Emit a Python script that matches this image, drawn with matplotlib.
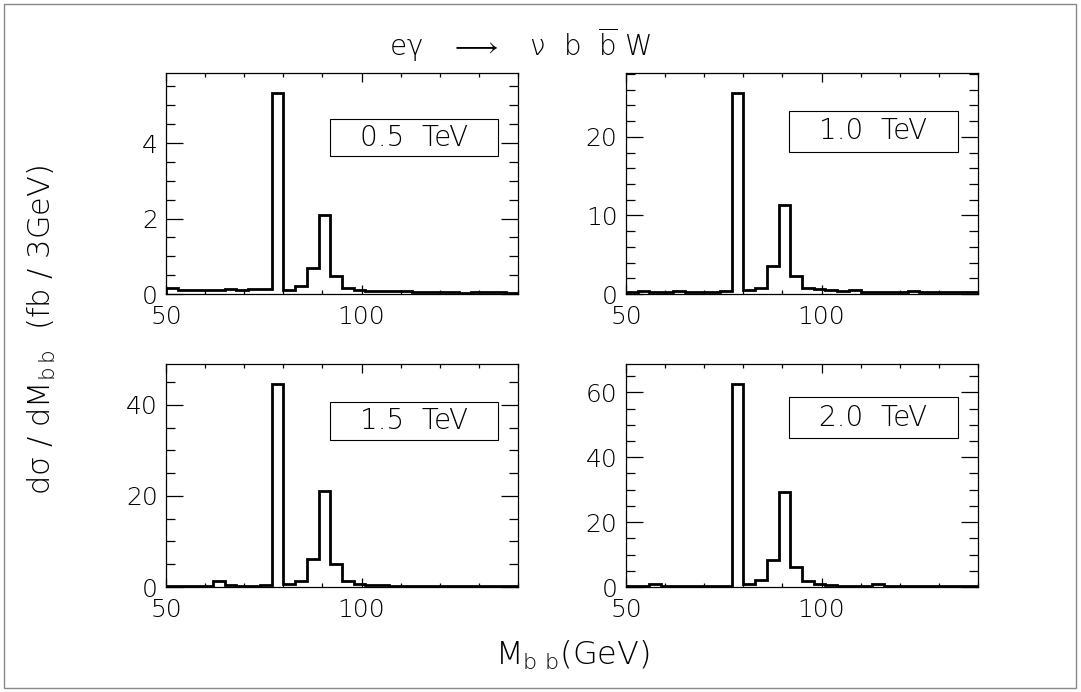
import numpy as np
import matplotlib.pyplot as plt
from matplotlib.patches import Rectangle
from matplotlib.ticker import MultipleLocator

plt.rcParams['font.family'] = ['DejaVu Sans']
plt.rcParams['font.weight'] = 'light'
plt.rcParams['mathtext.fontset'] = 'custom'
plt.rcParams['mathtext.rm'] = 'DejaVu Sans:light'
plt.rcParams['mathtext.it'] = 'DejaVu Sans:light'
plt.rcParams['mathtext.sf'] = 'DejaVu Sans:light'

# M_bb histogram, 3 GeV bins from 50 to 140 GeV
bin_edges = np.arange(50, 141, 3)
energies = ['0.5  TeV', '1.0  TeV', '1.5  TeV', '2.0  TeV']

sig_05 = [0.15, 0.11, 0.11, 0.11, 0.11, 0.14, 0.12, 0.14, 0.14, 5.33,
          0.12, 0.21, 0.70, 2.10, 0.49, 0.17, 0.12, 0.09, 0.08, 0.08,
          0.07, 0.06, 0.06, 0.05, 0.05, 0.04, 0.05, 0.06, 0.05, 0.04]
sig_10 = [0.2, 0.35, 0.25, 0.2, 0.35, 0.2, 0.2, 0.2, 0.35, 25.6,
          0.5, 0.8, 3.6, 11.3, 2.3, 0.8, 0.6, 0.5, 0.35, 0.45,
          0.2, 0.2, 0.2, 0.3, 0.35, 0.3, 0.25, 0.2, 0.3, 0.2]
sig_15 = [0.2, 0.3, 0.2, 0.2, 1.4, 0.5, 0.2, 0.2, 0.35, 44.5,
          0.75, 1.3, 6.1, 21.1, 5.0, 1.3, 0.75, 0.5, 0.4, 0.3,
          0.3, 0.3, 0.25, 0.25, 0.3, 0.3, 0.25, 0.25, 0.3, 0.25]
sig_20 = [0.3, 0.3, 0.8, 0.3, 0.3, 0.3, 0.3, 0.3, 0.3, 62.5,
          1.0, 2.1, 8.2, 29.2, 6.1, 1.9, 1.0, 0.5, 0.4, 0.4,
          0.4, 0.9, 0.4, 0.3, 0.3, 0.3, 0.3, 0.3, 0.3, 0.3]
all_sig = [sig_05, sig_10, sig_15, sig_20]

y_major = [2, 10, 20, 20]
y_minor = [0.5, 2, 5, 5]

fig = plt.figure(figsize=(10.81, 6.92), dpi=100)

# panel placement (left, bottom, width, height) in figure fractions
pos = [(0.1536, 0.5751, 0.3256, 0.3198),
       (0.5791, 0.5751, 0.3256, 0.3198),
       (0.1536, 0.1517, 0.3256, 0.3223),
       (0.5791, 0.1517, 0.3256, 0.3223)]
# label box (x0, y0, x1, y1) in axes fractions
boxes = [(0.466, 0.624, 0.943, 0.790),
         (0.463, 0.643, 0.943, 0.827),
         (0.466, 0.659, 0.943, 0.831),
         (0.463, 0.666, 0.943, 0.853)]

for i in range(4):
    ax = fig.add_axes(pos[i])
    vals = np.array(all_sig[i])
    ax.stairs(vals, bin_edges, color='k', lw=2.0)
    ax.set_xlim(50, 140)
    ax.set_ylim(0, 1.1 * vals.max())
    ax.xaxis.set_major_locator(MultipleLocator(50))
    ax.xaxis.set_minor_locator(MultipleLocator(10))
    ax.yaxis.set_major_locator(MultipleLocator(y_major[i]))
    ax.yaxis.set_minor_locator(MultipleLocator(y_minor[i]))
    ax.tick_params(axis='both', which='both', direction='in',
                   top=True, right=True, labelsize=18, width=0.9)
    ax.tick_params(axis='x', which='major', length=6.5, pad=8)
    ax.tick_params(axis='x', which='minor', length=3)
    ax.tick_params(axis='y', which='major', length=12, pad=6)
    ax.tick_params(axis='y', which='minor', length=6.5)
    for sp in ax.spines.values():
        sp.set_linewidth(0.9)
    x0, y0, x1, y1 = boxes[i]
    ax.add_patch(Rectangle((x0, y0), x1 - x0, y1 - y0, transform=ax.transAxes,
                           fill=True, facecolor='white', edgecolor='k', lw=0.8))
    ax.text((x0 + x1) / 2, (y0 + y1) / 2, energies[i], transform=ax.transAxes,
            ha='center', va='center', fontsize=20)

fig.text(0.481, 0.935, r'e$\gamma$   $\longrightarrow$   $\nu$  b  $\overline{\mathrm{b}}$ W',
         ha='center', va='center', fontsize=20)
fig.text(0.529, 0.053, r'M$_{\mathrm{b\ b}}$(GeV)', ha='center', va='center', fontsize=23)
fig.text(0.039, 0.523, r'd$\sigma$ / dM$_{\mathrm{b\,b}}$  (fb / 3GeV)', rotation=90,
         ha='center', va='center', fontsize=22)

fig.patches.append(Rectangle((0.004, 0.006), 0.991, 0.988, transform=fig.transFigure,
                             fill=False, edgecolor='#888888', lw=1.0))

fig.savefig('out.png', dpi=100)
